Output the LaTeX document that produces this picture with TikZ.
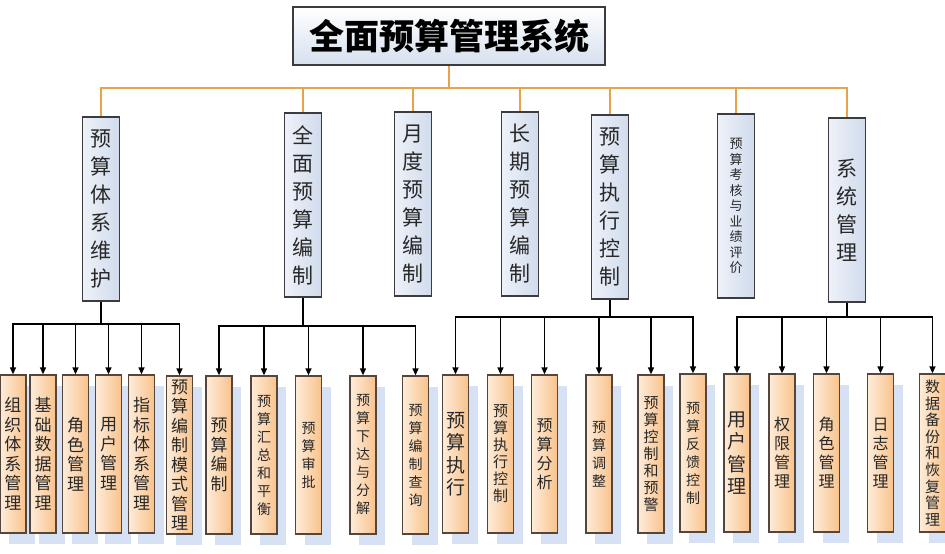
\documentclass[tikz,border=0pt]{standalone}
\usepackage{fontspec}
\setmainfont{Noto Sans CJK SC}
\usetikzlibrary{arrows.meta,shadows}
\definecolor{edgegray}{RGB}{60,60,64}
\definecolor{leafedge}{RGB}{84,70,60}
\definecolor{headblue}{RGB}{214,224,238}
\definecolor{modlight}{RGB}{238,242,249}
\definecolor{moddark}{RGB}{208,219,236}
\definecolor{leaflight}{RGB}{253,236,218}
\definecolor{leafdark}{RGB}{249,194,138}
\definecolor{shadeblue}{RGB}{214,226,244}
\definecolor{linkorange}{RGB}{232,162,72}
\definecolor{inkgray}{RGB}{40,40,40}

\begin{document}
\begin{tikzpicture}[x=1pt, y=-1pt,
    head/.style={draw=edgegray, line width=1.5pt, top color=white, bottom color=headblue, minimum width=312pt, minimum height=58pt, inner sep=0pt, font=\bfseries\fontsize{35}{40}\selectfont},
    mod/.style={draw=edgegray, line width=1.5pt, left color=modlight, right color=moddark, minimum width=37pt, minimum height=184pt, inner sep=0pt, align=center, text=inkgray, font=\fontsize{21}{28}\selectfont},
    leaf/.style={draw=leafedge, line width=1.3pt, left color=leaflight, right color=leafdark, minimum width=26pt, minimum height=158pt, inner sep=0pt, align=center, text=inkgray, font=\fontsize{16}{19}\selectfont,
      drop shadow={shadow xshift=9pt, shadow yshift=-11pt, fill=shadeblue, opacity=1}},
    small/.style={font=\fontsize{14}{18}\selectfont},
    large/.style={font=\fontsize{19}{22.5}\selectfont},
    link/.style={linkorange, line width=2.2pt},
    stem/.style={black, line width=2.4pt},
    arr/.style={black, line width=1.4pt, -{Triangle[length=7pt, width=6pt]}}
  ]
  \useasboundingbox (0,0) rectangle (945,554);

  % top and second level
  \node[head] (sys) at (449,36) {全面预算管理系统};
  \node[mod] (m1) at (101,209) {预\\算\\体\\系\\维\\护};
  \node[mod] (m2) at (303,205) {全\\面\\预\\算\\编\\制};
  \node[mod] (m3) at (413,204) {月\\度\\预\\算\\编\\制};
  \node[mod] (m4) at (520,204) {长\\期\\预\\算\\编\\制};
  \node[mod] (m5) at (610,207) {预\\算\\执\\行\\控\\制};
  \node[mod, font=\fontsize{13}{15.5}\selectfont] (m6) at (736,206) {预\\算\\考\\核\\与\\业\\绩\\评\\价};
  \node[mod] (m7) at (847,210) {系\\统\\管\\理};

  \coordinate (bus) at (449,88);
  \draw[link] (sys) -- (bus);
  \foreach \n in {1,...,7}
    \draw[link] (bus) -| (m\n);

  % third level
  \node[leaf, font=\fontsize{17}{19.5}\selectfont] (s1) at (13,454) {组\\织\\体\\系\\管\\理};
  \node[leaf, font=\fontsize{17}{19.5}\selectfont] (s2) at (43,454) {基\\础\\数\\据\\管\\理};
  \node[leaf, font=\fontsize{17}{19.5}\selectfont] (s3) at (75.5,454) {角\\色\\管\\理};
  \node[leaf, font=\fontsize{17}{19.5}\selectfont] (s4) at (108.5,454) {用\\户\\管\\理};
  \node[leaf, font=\fontsize{17}{19.5}\selectfont] (s5) at (141.5,454) {指\\标\\体\\系\\管\\理};
  \node[leaf, font=\fontsize{17}{19.5}\selectfont] (s6) at (179.5,455) {预\\算\\编\\制\\模\\式\\管\\理};
  \node[leaf, font=\fontsize{17}{19.5}\selectfont] (s7) at (219,455) {预\\算\\编\\制};
  \node[leaf, small] (s8) at (264,455) {预\\算\\汇\\总\\和\\平\\衡};
  \node[leaf, small] (s9) at (308.5,455) {预\\算\\审\\批};
  \node[leaf, small] (s10) at (363,455) {预\\算\\下\\达\\与\\分\\解};
  \node[leaf, small] (s11) at (415.5,455) {预\\算\\编\\制\\查\\询};
  \node[leaf, large] (s12) at (455.5,454) {预\\算\\执\\行};
  \node[leaf, font=\fontsize{15}{17}\selectfont] (s13) at (500.5,454) {预\\算\\执\\行\\控\\制};
  \node[leaf] (s14) at (544.5,454) {预\\算\\分\\析};
  \node[leaf, small] (s15) at (599,454) {预\\算\\调\\整};
  \node[leaf, font=\fontsize{15}{17}\selectfont] (s16) at (651,454) {预\\算\\控\\制\\和\\预\\警};
  \node[leaf, small] (s17) at (693,453) {预\\算\\反\\馈\\控\\制};
  \node[leaf, large] (s18) at (737,453) {用\\户\\管\\理};
  \node[leaf] (s19) at (782,453) {权\\限\\管\\理};
  \node[leaf] (s20) at (826.5,453) {角\\色\\管\\理};
  \node[leaf] (s21) at (880.5,453) {日\\志\\管\\理};
  \node[leaf, font=\fontsize{15}{16.6}\selectfont] (s22) at (932.5,453) {数\\据\\备\\份\\和\\恢\\复\\管\\理};

  \coordinate (j1) at (101,324);
  \coordinate (j2) at (303,326);
  \coordinate (j3) at (610,317);
  \coordinate (j4) at (847,317);
  \draw[stem] (m1) -- (j1);
  \draw[stem] (m2) -- (j2);
  \draw[stem] (m5) -- (j3);
  \draw[stem] (m7) -- (j4);
  \foreach \n in {1,...,6}
    \draw[arr] (j1) -| (s\n);
  \foreach \n in {7,...,11}
    \draw[arr] (j2) -| (s\n);
  \foreach \n in {12,...,17}
    \draw[arr] (j3) -| (s\n);
  \foreach \n in {18,...,22}
    \draw[arr] (j4) -| (s\n);
\end{tikzpicture}
\end{document}
